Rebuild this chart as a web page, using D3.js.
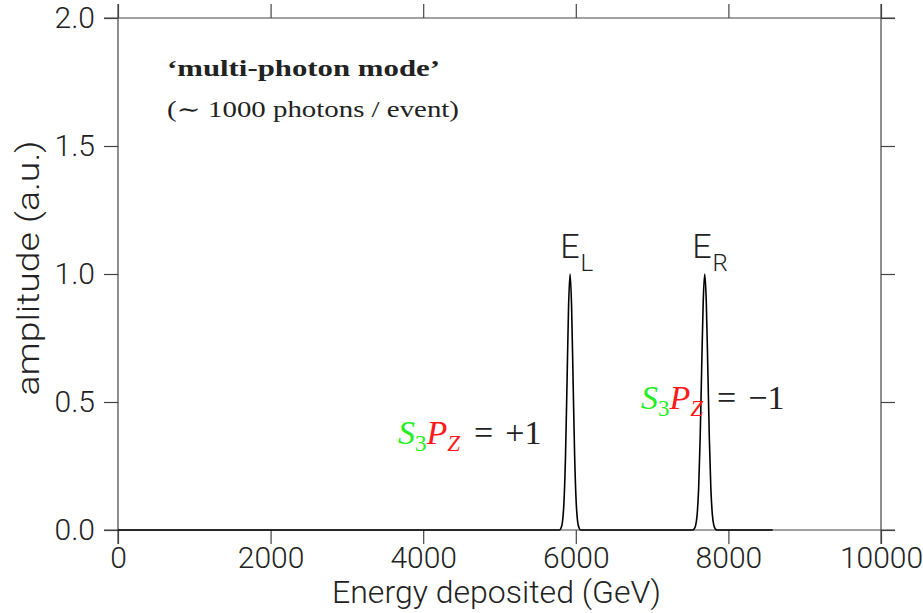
<!DOCTYPE html>
<html>
<head>
<meta charset="utf-8">
<title>multi-photon mode</title>
<style>
  body { margin: 0; background: #fff; }
  svg { display: block; }
  .tick text, .axis-title, .peak-label { font-family: Roboto, "DejaVu Sans", sans-serif; font-weight: 300; fill: #222; }
  .serif { font-family: "Liberation Serif", "DejaVu Serif", serif; fill: #222; }
</style>
</head>
<body>
<div id="viz"></div>
<script src="https://cdn.jsdelivr.net/npm/d3@7"></script>
<script>
// energy deposited (GeV) and amplitude (a.u.)
var energy = [0, 5785, 5805, 5825, 5845, 5865, 5885, 5905, 5925, 5945, 5965, 5985, 6005, 6025, 6045, 6065,
              7530, 7550, 7570, 7590, 7610, 7630, 7650, 7670, 7690, 7710, 7730, 7750, 7770, 7790, 7810, 7830, 7850, 8580];
var amplitude = [0, 0, 0.007, 0.031, 0.109, 0.287, 0.575, 0.871, 1.0, 0.871, 0.575, 0.287, 0.109, 0.031, 0.007, 0,
                 0, 0.004, 0.017, 0.059, 0.163, 0.360, 0.635, 0.893, 1.0, 0.893, 0.635, 0.360, 0.163, 0.059, 0.017, 0.004, 0, 0];

var xTicks = [0, 2000, 4000, 6000, 8000, 10000];
var yTicks = [0, 0.5, 1.0, 1.5, 2.0];

var peakLabels = [
  { main: "E", sub: "L", e: 5795, a: 1.063 },
  { main: "E", sub: "R", e: 7525, a: 1.063 }
];
var polLabels = [
  { sign: "+1", e: 3670, a: 0.336 },
  { sign: "\u22121", e: 6855, a: 0.473 }
];

(function() {
  var W = 923, H = 613;
  var margin = { top: 18, right: 42, bottom: 83, left: 118 },
      width = W - margin.left - margin.right,
      height = H - margin.top - margin.bottom,
      ext = 14;

  var x = d3.scaleLinear().domain([0, 10000]).range([0, width]);
  var y = d3.scaleLinear().domain([0, 2.0]).range([height, 0]);

  var svg = d3.select("#viz").append("svg")
      .attr("width", W).attr("height", H)
    .append("g")
      .attr("transform", "translate(" + margin.left + "," + margin.top + ")");

  // frame, each side sticking out by a tick length
  var frame = [
    [-ext, 0, width + ext, 0], [-ext, height, width + ext, height],
    [0, -ext, 0, height + ext], [width, -ext, width, height + ext]
  ];
  svg.selectAll(".frame").data(frame).enter().append("line")
      .attr("class", "frame")
      .attr("x1", function(d) { return d[0]; }).attr("y1", function(d) { return d[1]; })
      .attr("x2", function(d) { return d[2]; }).attr("y2", function(d) { return d[3]; })
      .attr("stroke", "#444").attr("stroke-width", 1.2);

  var fmtY = d3.format(".1f");

  svg.append("g").attr("class", "x-axis")
      .attr("transform", "translate(0," + height + ")")
      .call(d3.axisBottom(x).tickValues(xTicks).tickFormat(d3.format("d")).tickSize(ext).tickPadding(3))
      .call(function(g) { g.select(".domain").remove(); });

  svg.append("g")
      .call(d3.axisTop(x).tickValues(xTicks).tickFormat("").tickSize(ext))
      .call(function(g) { g.select(".domain").remove(); });

  svg.append("g").attr("class", "y-axis")
      .call(d3.axisLeft(y).tickValues(yTicks).tickFormat(fmtY).tickSize(ext).tickPadding(9))
      .call(function(g) { g.select(".domain").remove(); });

  svg.append("g")
      .attr("transform", "translate(" + width + ",0)")
      .call(d3.axisRight(y).tickValues(yTicks).tickFormat("").tickSize(ext))
      .call(function(g) { g.select(".domain").remove(); });

  svg.selectAll(".tick line").attr("stroke", "#444").attr("stroke-width", 1.2);
  svg.selectAll(".tick text").attr("font-size", 30).attr("fill", "#222");

  // spectrum
  var points = energy.map(function(e, i) { return [e, amplitude[i]]; });
  var line = d3.line()
      .x(function(d) { return x(d[0]); })
      .y(function(d) { return y(d[1]); })
      .curve(d3.curveMonotoneX);

  svg.append("path")
      .datum(points)
      .attr("fill", "none")
      .attr("stroke", "#000")
      .attr("stroke-width", 1.6)
      .attr("d", line);

  // axis titles
  svg.append("text")
      .attr("class", "axis-title")
      .attr("x", width / 2 - 3)
      .attr("y", height + 73)
      .attr("text-anchor", "middle")
      .attr("font-size", 31)
      .attr("textLength", 329).attr("lengthAdjust", "spacingAndGlyphs")
      .text("Energy deposited (GeV)");

  svg.append("text")
      .attr("class", "axis-title")
      .attr("transform", "translate(" + (-79) + "," + (height / 2 - 6) + ") rotate(-90)")
      .attr("text-anchor", "middle")
      .attr("font-size", 31)
      .attr("textLength", 255).attr("lengthAdjust", "spacingAndGlyphs")
      .text("amplitude (a.u.)");

  // header text
  svg.append("text")
      .attr("class", "serif")
      .attr("x", 49).attr("y", 58)
      .attr("font-size", 23).attr("font-weight", "bold")
      .attr("textLength", 273).attr("lengthAdjust", "spacingAndGlyphs")
      .text("\u2018multi-photon mode\u2019");

  svg.append("text")
      .attr("class", "serif")
      .attr("x", 49).attr("y", 99)
      .attr("font-size", 23)
      .attr("textLength", 292).attr("lengthAdjust", "spacingAndGlyphs")
      .text("(\u223C 1000 photons / event)");

  // peak labels E_L, E_R
  var pl = svg.selectAll(".peak-label").data(peakLabels).enter().append("text")
      .attr("class", "peak-label")
      .attr("x", function(d) { return x(d.e); })
      .attr("y", function(d) { return y(d.a); })
      .attr("font-size", 34);
  pl.append("tspan").text(function(d) { return d.main; });
  pl.append("tspan").attr("dy", 13).attr("dx", 1).attr("font-size", 24).text(function(d) { return d.sub; });

  // S3 PZ = +-1 labels
  var lab = svg.selectAll(".pol").data(polLabels).enter().append("text")
      .attr("class", "pol serif")
      .attr("x", function(d) { return x(d.e); })
      .attr("y", function(d) { return y(d.a); })
      .attr("font-size", 34);
  lab.append("tspan").attr("font-style", "italic").attr("fill", "#22ee22").text("S");
  lab.append("tspan").attr("dy", 7).attr("font-size", 23).attr("fill", "#22ee22").text("3");
  lab.append("tspan").attr("dy", -7).attr("font-style", "italic").attr("fill", "#ff1a1a").text("P");
  lab.append("tspan").attr("dy", 7).attr("font-size", 23).attr("font-style", "italic").attr("fill", "#ff1a1a").text("Z");
  lab.append("tspan").attr("dy", -7).attr("dx", 14).attr("fill", "#222").text("=");
  lab.append("tspan").attr("dx", 12).attr("fill", "#222").text(function(d) { return d.sign; });
})();
</script>
</body>
</html>
